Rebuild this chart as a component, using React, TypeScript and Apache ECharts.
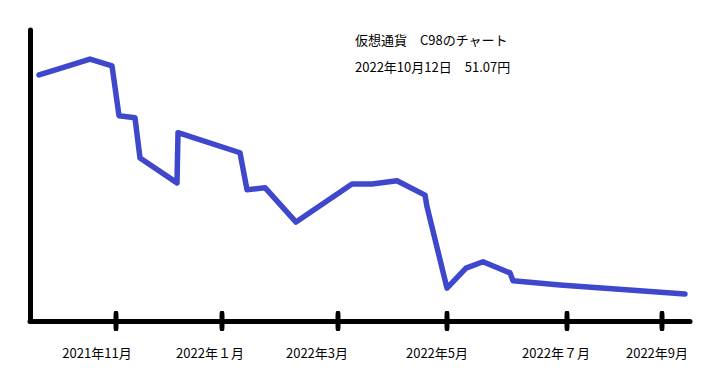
import React, { useEffect, useRef } from "react";
import * as echarts from "echarts";

// x: position along the time axis (axis units), y: price in yen
const priceX = [9, 23, 60, 82, 89, 105, 110, 147, 148, 210, 217, 235, 266, 322, 342, 367, 395, 397, 417, 436, 453, 480, 483, 530, 655];
const priceY = [465, 473, 495, 482, 388, 384, 308, 261, 356, 318, 248, 252, 187, 259, 259, 265, 238, 216, 62, 100, 112, 91, 76, 68, 51.07];

const tickValues = [86, 192, 308, 417, 537, 632];
const labelValues = [67, 180, 287, 407, 526, 627];
const labelTexts = ["2021年11月", "2022年１月", "2022年3月", "2022年5月", "2022年７月", "2022年9月"];

const titleText = "仮想通貨　C98のチャート";
const dateText = "2022年10月12日　51.07円";

const FONT = '"Noto Sans CJK JP", "Noto Sans", sans-serif';

export default function App() {
  const ref = useRef<HTMLDivElement>(null);
  useEffect(() => {
    if (!ref.current) return;
    const chart = echarts.init(ref.current, null, { renderer: "svg" });
    const lineData = priceX.map((x, i) => [x, priceY[i]]);
    const tickData = tickValues.map((x) => [x, 0]);
    chart.setOption({
      animation: false,
      backgroundColor: "#ffffff",
      title: [
        { text: titleText, left: 355, top: 33, padding: 0, textStyle: { fontSize: 13, fontWeight: "normal", color: "#000", fontFamily: FONT } },
        { text: dateText, left: 355, top: 60, padding: 0, textStyle: { fontSize: 13, fontWeight: "normal", color: "#000", fontFamily: FONT } },
      ],
      grid: { left: 30, right: 29, top: 30, bottom: 62 },
      xAxis: {
        type: "value",
        min: 0,
        max: 660,
        splitLine: { show: false },
        axisTick: { show: false },
        axisLine: { show: true, onZero: false, lineStyle: { color: "#000", width: 5, cap: "round" } },
        axisLabel: {
          customValues: labelValues,
          margin: 25,
          fontSize: 13,
          color: "#000",
          fontFamily: FONT,
          formatter: (v: number) => {
            const i = labelValues.indexOf(v);
            return i >= 0 ? labelTexts[i] : "";
          },
        },
      },
      yAxis: {
        type: "value",
        min: 0,
        max: 550,
        splitLine: { show: false },
        axisTick: { show: false },
        axisLabel: { show: false },
        axisLine: { show: true, onZero: false, lineStyle: { color: "#000", width: 5, cap: "round" } },
      },
      series: [
        {
          type: "line",
          data: lineData,
          showSymbol: false,
          symbol: "none",
          lineStyle: { color: "#3F48CC", width: 5.5, join: "round", cap: "round" },
          z: 3,
        },
        {
          type: "scatter",
          data: tickData,
          symbol: "roundRect",
          symbolSize: [5, 20],
          itemStyle: { color: "#000", opacity: 1 },
          clip: false,
          silent: true,
          z: 4,
        },
      ],
    });
    return () => chart.dispose();
  }, []);
  return <div ref={ref} style={{ position: "fixed", left: 0, top: 0, width: 719, height: 383 }} />;
}
